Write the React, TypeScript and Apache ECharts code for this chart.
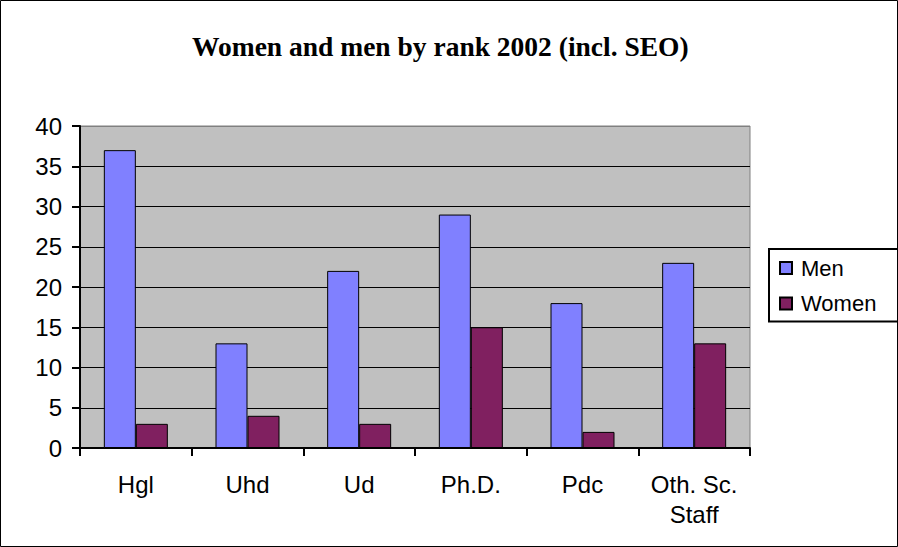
import React, { useEffect, useRef } from "react";
import * as echarts from "echarts";

const categories = ["Hgl", "Uhd", "Ud", "Ph.D.", "Pdc", "Oth. Sc.\nStaff"];
const menValues = [37, 13, 22, 29, 18, 23];
const womenValues = [3, 4, 3, 15, 2, 13];
const titleText = "Women and men by rank 2002 (incl. SEO)";

export default function App() {
  const ref = useRef<HTMLDivElement>(null);
  useEffect(() => {
    document.body.style.margin = "0";
    const chart = echarts.init(ref.current!, null, { renderer: "svg" });
    const sans = "'Liberation Sans', Arial, sans-serif";
    chart.setOption({
      animation: false,
      backgroundColor: "#ffffff",
      title: {
        text: titleText,
        left: 192,
        top: 32,
        padding: 0,
        textStyle: {
          fontFamily: "'Liberation Serif', 'Times New Roman', serif",
          fontWeight: "bold",
          fontSize: 27.5,
          color: "#000",
        },
      },
      legend: {
        orient: "vertical",
        left: 769,
        top: 249,
        padding: [7, 30, 6, 10],
        borderColor: "#000",
        borderWidth: 2,
        itemWidth: 12,
        itemHeight: 12,
        itemGap: 11.5,
        icon: "rect",
        textStyle: {
          fontFamily: sans,
          fontSize: 22,
          color: "#000",
          lineHeight: 24,
          padding: [0, 0, 0, 4],
        },
        data: ["Men", "Women"],
      },
      grid: {
        left: 80,
        top: 126,
        right: 148,
        bottom: 99,
        show: true,
        backgroundColor: "#C0C0C0",
        borderColor: "#808080",
        borderWidth: 1,
        containLabel: false,
      },
      xAxis: {
        type: "category",
        data: categories,
        axisLine: { show: true, lineStyle: { color: "#000", width: 2 } },
        axisTick: { show: true, length: 8, inside: false, lineStyle: { color: "#000", width: 2 } },
        axisLabel: {
          fontFamily: sans,
          fontSize: 24,
          color: "#000",
          margin: 21,
          lineHeight: 30,
          interval: 0,
        },
      },
      yAxis: {
        type: "value",
        min: 0,
        max: 40,
        interval: 5,
        axisLine: { show: true, lineStyle: { color: "#000", width: 2 } },
        axisTick: { show: true, length: 8, inside: false, lineStyle: { color: "#000", width: 2 } },
        axisLabel: { fontFamily: sans, fontSize: 24, color: "#000", margin: 18 },
        splitLine: {
          show: true,
          lineStyle: {
            color: ["#000", "#000", "#000", "#000", "#000", "#000", "#000", "#000", "#808080"],
            width: 1,
          },
        },
      },
      series: [
        {
          name: "Men",
          type: "bar",
          data: menValues,
          barWidth: 32,
          barGap: "0%",
          itemStyle: { color: "#8080FF", borderColor: "#000", borderWidth: 1 },
        },
        {
          name: "Women",
          type: "bar",
          data: womenValues,
          barWidth: 32,
          barGap: "0%",
          itemStyle: { color: "#802060", borderColor: "#000", borderWidth: 1 },
        },
      ],
      graphic: [
        {
          type: "rect",
          shape: { x: 0.5, y: 0.5, width: 897, height: 546 },
          style: { fill: "none", stroke: "#000", lineWidth: 1 },
          silent: true,
          z: 100,
        },
      ],
    });
    return () => chart.dispose();
  }, []);
  return <div ref={ref} style={{ width: 898, height: 547 }} />;
}
